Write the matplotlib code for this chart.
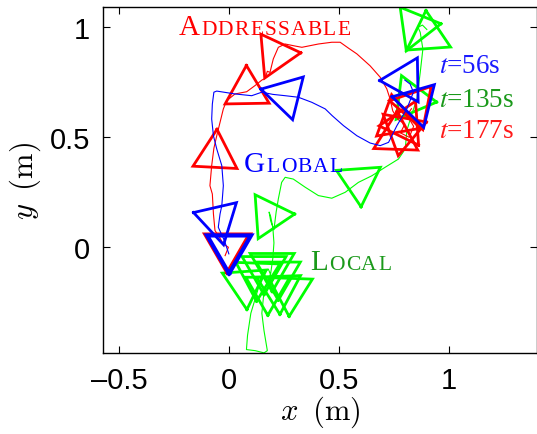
import numpy as np
import matplotlib
matplotlib.use("Agg")
import matplotlib.pyplot as plt
from matplotlib import transforms

# trajectories (m)
red_x = [-0.017, -0.002, -0.025, -0.045, -0.063, -0.070, -0.075, -0.086, -0.078, -0.068, -0.055,
         -0.040, -0.025, -0.010, 0.028, 0.081, 0.119, 0.150, 0.165, 0.175, 0.187, 0.202, 0.225,
         0.256, 0.300, 0.332, 0.407, 0.468, 0.506, 0.544, 0.582, 0.642, 0.688, 0.718, 0.733,
         0.745, 0.770, 0.800, 0.780, 0.820, 0.840, 0.810, 0.830]
red_y = [-0.038, 0.000, 0.015, 0.050, 0.076, 0.151, 0.242, 0.280, 0.371, 0.450, 0.507,
         0.568, 0.629, 0.666, 0.697, 0.707, 0.735, 0.760, 0.768, 0.800, 0.795, 0.856, 0.909,
         0.924, 0.915, 0.909, 0.924, 0.932, 0.932, 0.905, 0.879, 0.825, 0.773, 0.720, 0.674,
         0.620, 0.580, 0.560, 0.520, 0.500, 0.550, 0.600, 0.630]

blue_x = [0.000, -0.020, -0.048, -0.040, -0.032, -0.025, -0.032, -0.055, -0.070, -0.078,
          -0.075, -0.068, -0.055, 0.028, 0.104, 0.150, 0.200, 0.256, 0.316, 0.377, 0.438,
          0.470, 0.521, 0.582, 0.642, 0.688, 0.726, 0.764, 0.809, 0.839, 0.824, 0.800]
blue_y = [-0.030, 0.030, 0.091, 0.151, 0.189, 0.280, 0.371, 0.447, 0.507, 0.583,
          0.651, 0.705, 0.710, 0.697, 0.689, 0.705, 0.695, 0.689, 0.682, 0.659, 0.629,
          0.598, 0.553, 0.507, 0.474, 0.462, 0.477, 0.553, 0.629, 0.705, 0.742, 0.760]

green_x = [0.200, 0.180, 0.150, 0.130, 0.100, 0.085, 0.080, 0.120, 0.160, 0.175, 0.160,
           0.150, 0.160, 0.190, 0.200, 0.205, 0.200, 0.190, 0.183, 0.190, 0.205, 0.215,
           0.225, 0.240, 0.256, 0.293, 0.347, 0.407, 0.468, 0.529, 0.589, 0.650, 0.711,
           0.771, 0.802, 0.809, 0.830, 0.855, 0.870, 0.882, 0.870, 0.860, 0.880, 0.900]
green_y = [-0.150, -0.100, -0.120, -0.200, -0.300, -0.400, -0.465, -0.470, -0.480, -0.470, -0.380,
           -0.300, -0.200, -0.120, -0.050, 0.020, 0.090, 0.140, 0.160, 0.120, 0.080, 0.160,
           0.220, 0.295, 0.318, 0.310, 0.273, 0.235, 0.223, 0.250, 0.295, 0.325, 0.364,
           0.401, 0.447, 0.530, 0.600, 0.674, 0.795, 0.901, 0.977, 1.000, 1.010, 0.990]

# robot poses: centre x, centre y, direction of one corner (deg)
red_px = [-0.006, -0.060, 0.082, 0.212, 0.844, 0.761, 0.798, 0.790, 0.760]
red_py = [0.000, 0.421, 0.711, 0.874, 0.644, 0.503, 0.560, 0.530, 0.580]
red_pa = [-90, 87, 91, 5, 49, 88, -56, 20, -20]

blue_px = [0.001, -0.050, 0.258, 0.801, 0.854]
blue_py = [-0.004, 0.124, 0.691, 0.760, 0.656]
blue_pa = [-90, 163, 166, 181, 166]

green_px = [0.184, 0.593, 0.850, 0.904, 0.830, 0.074, 0.197, 0.225, 0.130, 0.177, 0.278, 0.228, 0.160]
green_py = [0.143, 0.299, 1.000, 0.961, 0.674, -0.168, -0.086, -0.125, -0.130, -0.194, -0.199, -0.190, -0.100]
green_pa = [4, -86, 8, 94, -7, -86, -90, -90, -92, -90, -92, -88, -90]

SIDE = 0.2
RAD = SIDE / np.sqrt(3)

plt.rcParams['font.family'] = ['Liberation Sans', 'DejaVu Sans']

fig = plt.figure(figsize=(5.37, 4.35), dpi=100)
ax = fig.add_axes([0.191, 0.1855, 0.8095, 0.7955])


def draw_poses(xs, ys, angs, color, lw=2.0):
    for x, y, a in zip(xs, ys, angs):
        t = np.deg2rad(a + np.array([0, 120, 240, 0]))
        ax.plot(x + RAD * np.cos(t), y + RAD * np.sin(t), color=color, lw=lw,
                solid_joinstyle='miter')


ax.plot(green_x, green_y, color=(0, 1, 0), lw=0.8)
draw_poses(green_px, green_py, green_pa, (0, 1, 0))
ax.plot(red_x, red_y, color=(1, 0, 0), lw=0.8)
draw_poses(red_px[:1], red_py[:1], red_pa[:1], (1, 0, 0), lw=3.0)
draw_poses(red_px[1:], red_py[1:], red_pa[1:], (1, 0, 0))
ax.plot(blue_x, blue_y, color=(0, 0, 1), lw=0.8)
draw_poses(blue_px[:1], blue_py[:1], blue_pa[:1], (0, 0, 1), lw=3.0)
draw_poses(blue_px[1:], blue_py[1:], blue_pa[1:], (0, 0, 1))

ax.set_xlim(-0.574, 1.402)
ax.set_ylim(-0.482, 1.091)
ax.set_xticks([-0.5, 0, 0.5, 1])
ax.set_xticklabels(['\u20130.5', '0', '0.5', '1'])
ax.set_yticks([0, 0.5, 1])
ax.set_yticklabels(['0', '0.5', '1'])
ax.tick_params(direction='in', top=True, right=True, length=5, width=0.8,
               labelsize=21, pad=9)
for s in ax.spines.values():
    s.set_linewidth(1.0)

ax.set_xlabel(r"$x\;\;(\mathrm{m})$", fontsize=22, math_fontfamily='cm', labelpad=0)
ax.set_ylabel(r"$y\;\;(\mathrm{m})$", fontsize=22, math_fontfamily='cm', labelpad=5)

renderer = fig.canvas.get_renderer()


def small_caps(x, y, word, color, big=21, small=15.5, sep=1.2):
    off = 0.0
    for i, ch in enumerate(word):
        tr = transforms.offset_copy(ax.transData, fig=fig, x=off, y=0, units='dots')
        t = ax.text(x, y, ch, transform=tr, fontsize=big if i == 0 else small,
                    color=color, family='Liberation Serif', va='baseline', ha='left')
        off += t.get_window_extent(renderer).width + sep


small_caps(-0.227, 0.970, "ADDRESSABLE", (1, 0, 0))
small_caps(0.069, 0.348, "GLOBAL", (0, 0, 1))
small_caps(0.369, -0.099, "LOCAL", (0.1, 0.6, 0.1))

tprops = dict(fontsize=19.5, family='Liberation Serif', math_fontfamily='stix', va='baseline')
ax.text(0.956, 0.795, r"$t$=56s", color=(0.1, 0.1, 1), **tprops)
ax.text(0.956, 0.644, r"$t$=135s", color=(0.1, 0.6, 0.1), **tprops)
ax.text(0.956, 0.500, r"$t$=177s", color=(1, 0.1, 0.1), **tprops)

fig.savefig("out.png", dpi=100)
